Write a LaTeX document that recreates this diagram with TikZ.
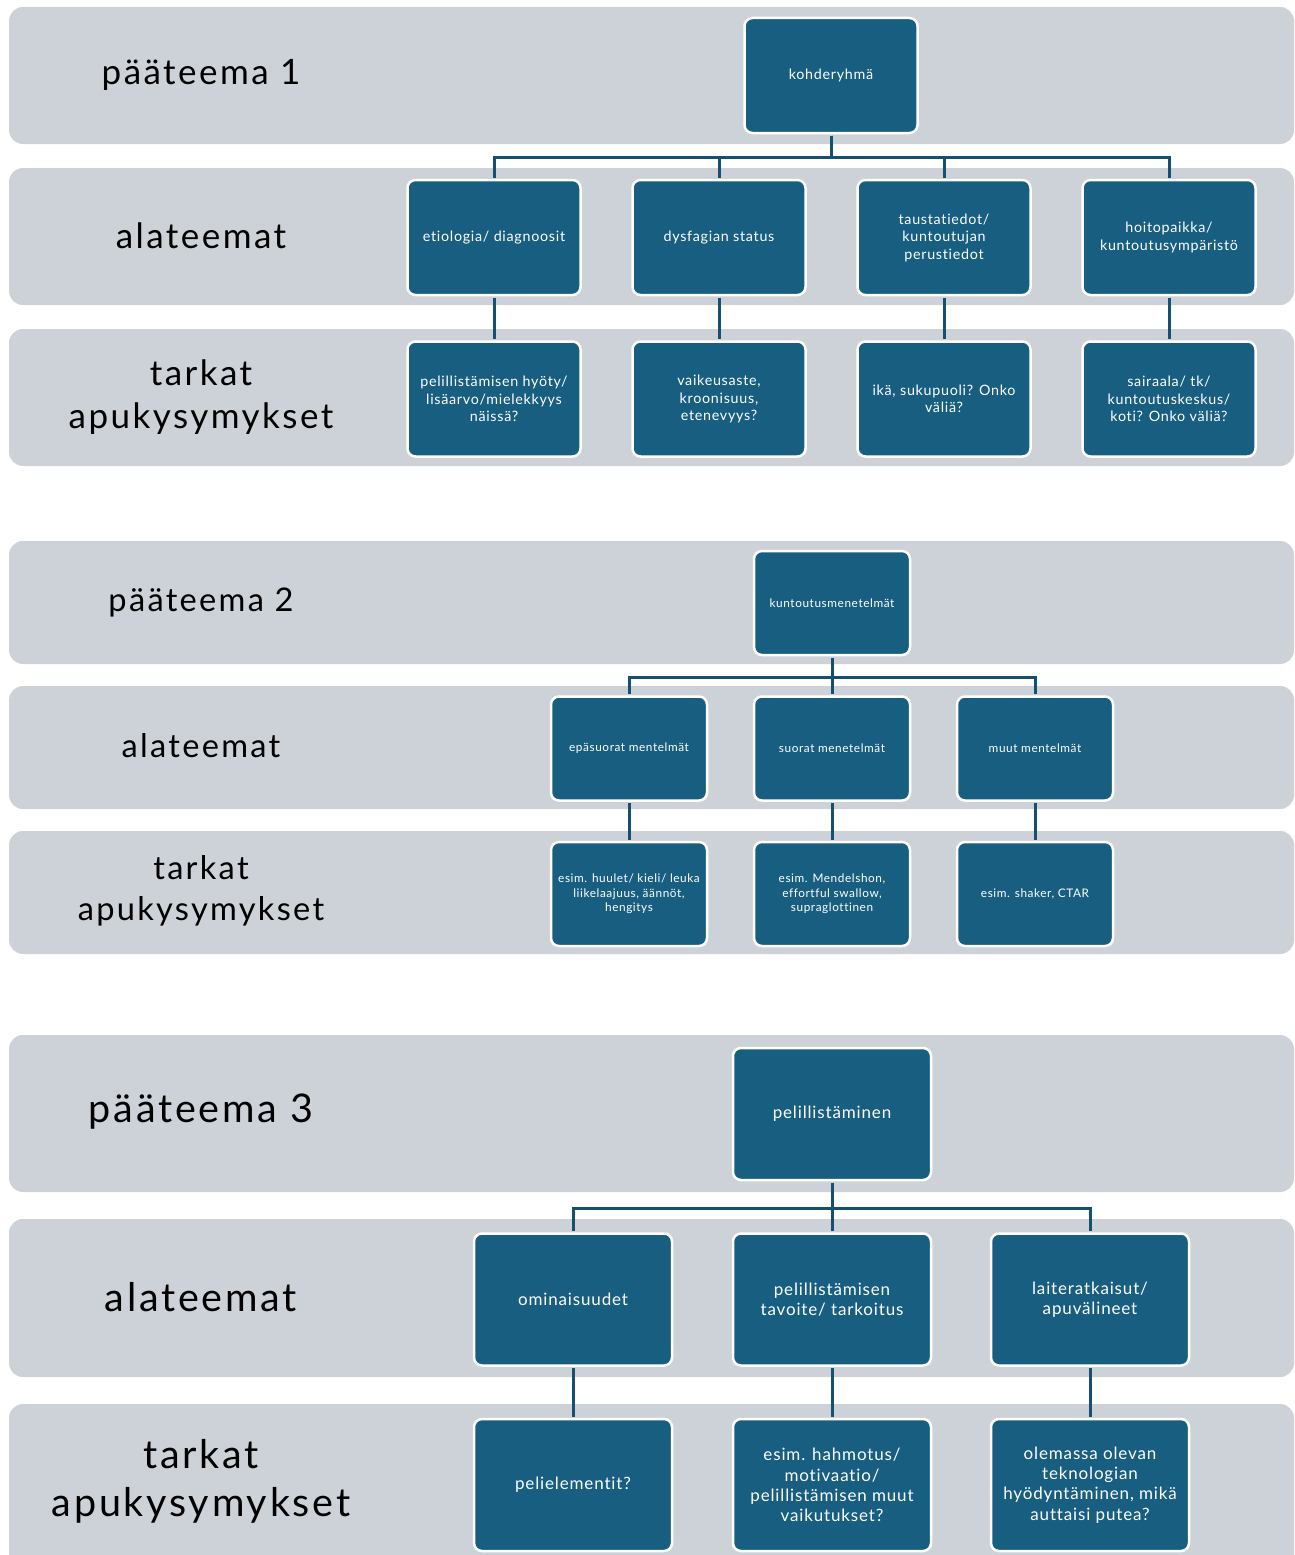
\documentclass[tikz,border=0pt]{standalone}
\usepackage{fontspec}
\setmainfont{Lato}[LetterSpace=5, Ligatures=NoCommon]
\newfontfamily\lblfont{Lato}[LetterSpace=7, Ligatures=NoCommon]

\definecolor{bandgray}{RGB}{205,210,217}
\definecolor{boxteal}{RGB}{23,94,128}
\definecolor{linkteal}{RGB}{22,80,112}

\tikzset{
	band/.style={fill=bandgray, rounded corners=14pt},
	lbl/.style={align=center, text=black},
	box/.style={draw=white, line width=2.5pt, fill=boxteal, text=white, rounded corners=8pt, align=center, inner sep=2pt},
	boxA/.style={box, minimum width=173pt, minimum height=115pt, font=\fontsize{14.3}{17.5}\selectfont},
	boxB/.style={box, minimum width=156pt, minimum height=104pt, font=\fontsize{11.8}{14.5}\selectfont},
	boxC/.style={box, minimum width=198pt, minimum height=132pt, font=\fontsize{17}{20.3}\selectfont},
	link/.style={draw=linkteal, line width=3pt, shorten <=1.25pt, shorten >=1.25pt},
}

\begin{document}
\begin{tikzpicture}[x=1pt,y=-1pt]
	\useasboundingbox (0,0) rectangle (1295,1555);

	% bands
	\foreach \t/\b in {7/144, 168/305, 329/466, 541/664, 686/809, 831/954, 1035/1192, 1219/1377, 1404/1580}
	\fill[band] (9,\t) rectangle (1294,\b);

	% left labels
	\node[lbl, font=\lblfont\fontsize{35}{43}\selectfont] (lp1) at (201,75) {pääteema 1};
	\node[lbl, font=\lblfont\fontsize{35}{43}\selectfont] (la1) at (201,236) {alateemat};
	\node[lbl, font=\lblfont\fontsize{35}{43}\selectfont] (lt1) at (201,397) {tarkat\\apukysymykset};
	\node[lbl, font=\lblfont\fontsize{32.6}{41}\selectfont] (lp2) at (201,602) {pääteema 2};
	\node[lbl, font=\lblfont\fontsize{32.6}{41}\selectfont] (la2) at (201,746) {alateemat};
	\node[lbl, font=\lblfont\fontsize{32.6}{41}\selectfont] (lt2) at (201,891) {tarkat\\apukysymykset};
	\node[lbl, font=\lblfont\fontsize{39.5}{48}\selectfont] (lp3) at (201,1112) {pääteema 3};
	\node[lbl, font=\lblfont\fontsize{39.5}{48}\selectfont] (la3) at (201,1297) {alateemat};
	\node[lbl, font=\lblfont\fontsize{39.5}{48}\selectfont] (lt3) at (201,1481) {tarkat\\apukysymykset};

	% pääteema 1
	\node[boxA] (p1) at (831,75.5) {kohderyhmä};
	\node[boxA] (a11) at (494,237.5) {etiologia/ diagnoosit};
	\node[boxA] (a12) at (719,237.5) {dysfagian status};
	\node[boxA] (a13) at (944,237.5) {taustatiedot/\\kuntoutujan\\perustiedot};
	\node[boxA] (a14) at (1169,237.5) {hoitopaikka/\\kuntoutusympäristö};
	\node[boxA] (t11) at (494,399) {pelillistämisen hyöty/\\lisäarvo/mielekkyys\\näissä?};
	\node[boxA] (t12) at (719,399) {vaikeusaste,\\kroonisuus,\\etenevyys?};
	\node[boxA] (t13) at (944,399) {ikä, sukupuoli? Onko\\väliä?};
	\node[boxA] (t14) at (1169,399) {sairaala/ tk/\\kuntoutuskeskus/\\koti? Onko väliä?};
	\foreach \i in {1,...,4}{
		\draw[link] (p1.south) -- ++(0,23.5) -| (a1\i.north);
		\draw[link] (a1\i.south) -- (t1\i.north);
	}

	% pääteema 2
	\node[boxB] (p2) at (832,603) {kuntoutusmenetelmät};
	\node[boxB] (a21) at (629,748.5) {epäsuorat mentelmät};
	\node[boxB] (a22) at (832,748.5) {suorat menetelmät};
	\node[boxB] (a23) at (1035,748.5) {muut mentelmät};
	\node[boxB] (t21) at (629,894) {esim. huulet/ kieli/ leuka\\liikelaajuus, äännöt,\\hengitys};
	\node[boxB] (t22) at (832,894) {esim. Mendelshon,\\effortful swallow,\\supraglottinen};
	\node[boxB] (t23) at (1035,894) {esim. shaker, CTAR};
	\foreach \i in {1,...,3}{
		\draw[link] (p2.south) -- ++(0,21.5) -| (a2\i.north);
		\draw[link] (a2\i.south) -- (t2\i.north);
	}

	% pääteema 3
	\node[boxC] (p3) at (832,1114) {pelillistäminen};
	\node[boxC] (a31) at (573,1299.5) {ominaisuudet};
	\node[boxC] (a32) at (832,1299.5) {pelillistämisen\\tavoite/ tarkoitus};
	\node[boxC] (a33) at (1090,1299.5) {laiteratkaisut/\\apuvälineet};
	\node[boxC] (t31) at (573,1485) {pelielementit?};
	\node[boxC] (t32) at (832,1485) {esim. hahmotus/\\motivaatio/\\pelillistämisen muut\\vaikutukset?};
	\node[boxC] (t33) at (1090,1485) {olemassa olevan\\teknologian\\hyödyntäminen, mikä\\auttaisi putea?};
	\foreach \i in {1,...,3}{
		\draw[link] (p3.south) -- ++(0,27) -| (a3\i.north);
		\draw[link] (a3\i.south) -- (t3\i.north);
	}
\end{tikzpicture}
\end{document}
